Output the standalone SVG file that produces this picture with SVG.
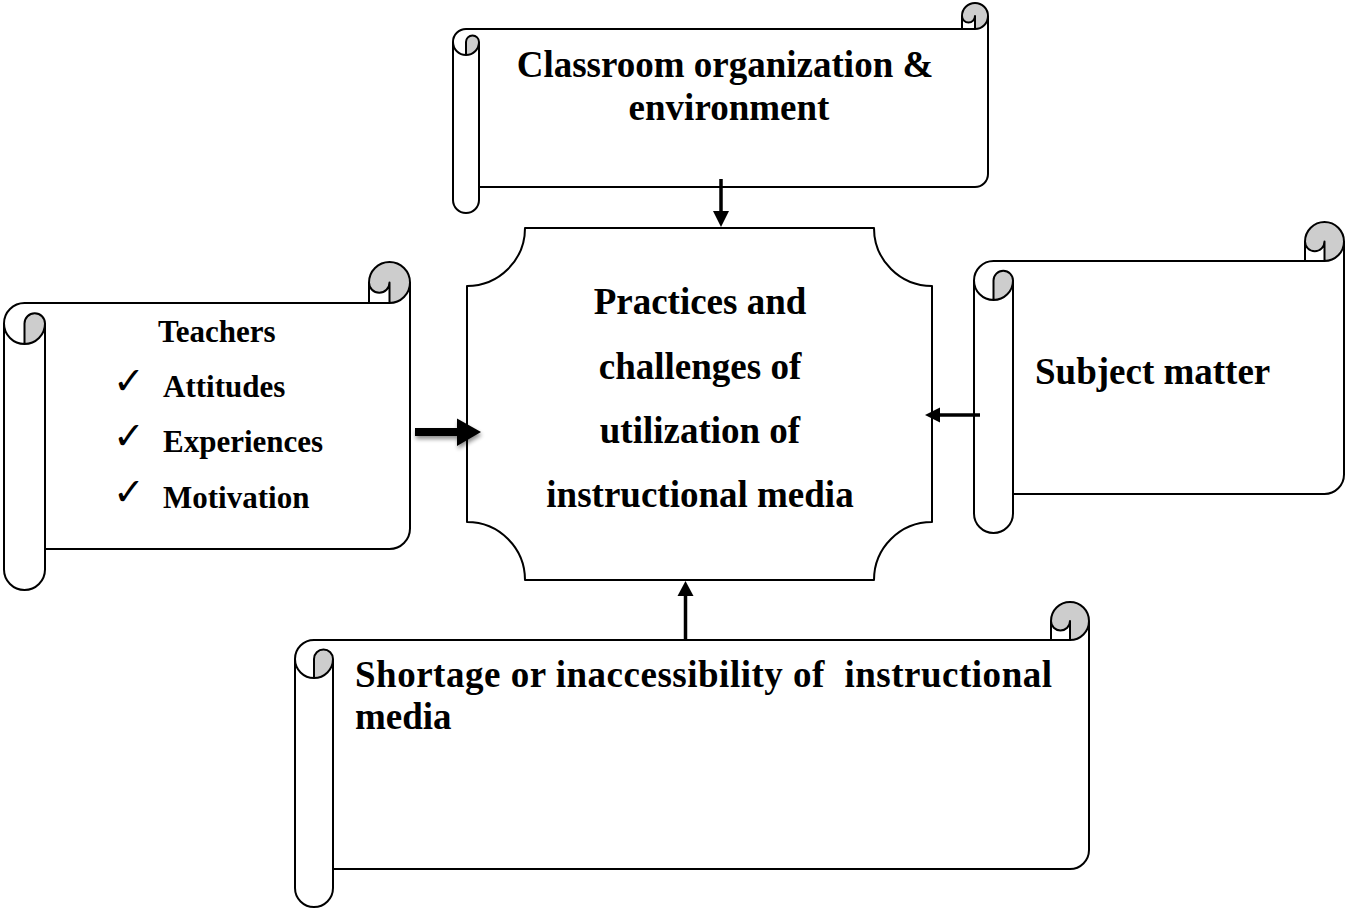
<svg xmlns="http://www.w3.org/2000/svg" width="1346" height="909" viewBox="0 0 1346 909">
<style>
.bg{fill:#ffffff}
.fillw{fill:#ffffff;stroke:none}
.gray{fill:#cdcdcd;stroke:none}
.ol{fill:none;stroke:#000;stroke-width:2;stroke-linejoin:round;stroke-linecap:round}
.t{font-family:"Liberation Serif","Times New Roman",serif;font-weight:bold;fill:#000}
.big{font-size:37px}
.mid{font-size:31px}
.chk{font-family:"DejaVu Sans",sans-serif;font-size:38px;fill:#000}
.ln{stroke:#000;fill:none}
.hd{fill:#000;stroke:none}
</style>
<defs>
<filter id="sh" x="-20%" y="-50%" width="140%" height="200%">
<feGaussianBlur in="SourceAlpha" stdDeviation="2"/>
<feOffset dx="1" dy="3" result="b"/>
<feComponentTransfer><feFuncA type="linear" slope="0.45"/></feComponentTransfer>
<feMerge><feMergeNode/><feMergeNode in="SourceGraphic"/></feMerge>
</filter>
</defs>
<rect class="bg" x="0" y="0" width="1346" height="909"/>

<g id="node-classroom">
<path class="fillw" d="M988,16 A13,13 0 0 1 975,29 L975,16 A6.5,6.5 0 0 1 962,16 L962,29 L466,29 A13,13 0 0 0 453,42 L453,200 A13,13 0 0 0 479,200 L479,187 L975,187 A13,13 0 0 0 988,174 Z"/>
<path class="gray" d="M466,55 A13,13 0 0 0 479,42 A6.5,6.5 0 0 0 466,42 Z M975,29 L975,16 A6.5,6.5 0 0 1 962,16 A13,13 0 0 1 988,16 A13,13 0 0 1 975,29 Z"/>
<path class="ol" d="M453,42 A13,13 0 0 1 466,29 L962,29 L962,16 A13,13 0 0 1 988,16 L988,174 A13,13 0 0 1 975,187 L479,187 L479,200 A13,13 0 0 1 453,200 Z M962,29 L975,29 A13,13 0 0 0 988,16 M975,29 L975,16 A6.5,6.5 0 0 1 962,16 M466,55 L466,42 A6.5,6.5 0 0 1 479,42 A13,13 0 0 1 453,42 M479,42 L479,187"/>
<text class="t big" x="725" y="77" text-anchor="middle">Classroom organization &amp;</text>
<text class="t big" x="729" y="120" text-anchor="middle">environment</text>
</g>

<g id="node-teachers">
<path class="fillw" d="M410,282.5 A20.5,20.5 0 0 1 389.5,303 L389.5,282.5 A10.25,10.25 0 0 1 369,282.5 L369,303 L24.5,303 A20.5,20.5 0 0 0 4,323.5 L4,569.5 A20.5,20.5 0 0 0 45,569.5 L45,549 L389.5,549 A20.5,20.5 0 0 0 410,528.5 Z"/>
<path class="gray" d="M24.5,344 A20.5,20.5 0 0 0 45,323.5 A10.25,10.25 0 0 0 24.5,323.5 Z M389.5,303 L389.5,282.5 A10.25,10.25 0 0 1 369,282.5 A20.5,20.5 0 0 1 410,282.5 A20.5,20.5 0 0 1 389.5,303 Z"/>
<path class="ol" d="M4,323.5 A20.5,20.5 0 0 1 24.5,303 L369,303 L369,282.5 A20.5,20.5 0 0 1 410,282.5 L410,528.5 A20.5,20.5 0 0 1 389.5,549 L45,549 L45,569.5 A20.5,20.5 0 0 1 4,569.5 Z M369,303 L389.5,303 A20.5,20.5 0 0 0 410,282.5 M389.5,303 L389.5,282.5 A10.25,10.25 0 0 1 369,282.5 M24.5,344 L24.5,323.5 A10.25,10.25 0 0 1 45,323.5 A20.5,20.5 0 0 1 4,323.5 M45,323.5 L45,549"/>
<text class="t mid" x="158" y="342">Teachers</text>
<text class="chk" x="113" y="394">✓</text>
<text class="t mid" x="163" y="397">Attitudes</text>
<text class="chk" x="113" y="449">✓</text>
<text class="t mid" x="163" y="452">Experiences</text>
<text class="chk" x="113" y="505">✓</text>
<text class="t mid" x="163" y="508">Motivation</text>
</g>

<g id="node-center">
<path class="ol" style="fill:#fff" d="M467,286 A58,58 0 0 0 525,228 L874,228 A58,58 0 0 0 932,286 L932,522 A58,58 0 0 0 874,580 L525,580 A58,58 0 0 0 467,522 Z"/>
<text class="t big" x="700" y="314" text-anchor="middle">Practices and</text>
<text class="t big" x="700" y="379" text-anchor="middle">challenges of</text>
<text class="t big" x="700" y="443" text-anchor="middle">utilization of</text>
<text class="t big" x="700" y="507" text-anchor="middle">instructional media</text>
</g>

<g id="node-subject">
<path class="fillw" d="M1344,241.5 A19.5,19.5 0 0 1 1324.5,261 L1324.5,241.5 A9.75,9.75 0 0 1 1305,241.5 L1305,261 L993.5,261 A19.5,19.5 0 0 0 974,280.5 L974,513.5 A19.5,19.5 0 0 0 1013,513.5 L1013,494 L1324.5,494 A19.5,19.5 0 0 0 1344,474.5 Z"/>
<path class="gray" d="M993.5,300 A19.5,19.5 0 0 0 1013,280.5 A9.75,9.75 0 0 0 993.5,280.5 Z M1324.5,261 L1324.5,241.5 A9.75,9.75 0 0 1 1305,241.5 A19.5,19.5 0 0 1 1344,241.5 A19.5,19.5 0 0 1 1324.5,261 Z"/>
<path class="ol" d="M974,280.5 A19.5,19.5 0 0 1 993.5,261 L1305,261 L1305,241.5 A19.5,19.5 0 0 1 1344,241.5 L1344,474.5 A19.5,19.5 0 0 1 1324.5,494 L1013,494 L1013,513.5 A19.5,19.5 0 0 1 974,513.5 Z M1305,261 L1324.5,261 A19.5,19.5 0 0 0 1344,241.5 M1324.5,261 L1324.5,241.5 A9.75,9.75 0 0 1 1305,241.5 M993.5,300 L993.5,280.5 A9.75,9.75 0 0 1 1013,280.5 A19.5,19.5 0 0 1 974,280.5 M1013,280.5 L1013,494"/>
<text class="t big" x="1035" y="384">Subject matter</text>
</g>

<g id="node-shortage">
<path class="fillw" d="M1089,621 A19,19 0 0 1 1070,640 L1070,621 A9.5,9.5 0 0 1 1051,621 L1051,640 L314,640 A19,19 0 0 0 295,659 L295,888 A19,19 0 0 0 333,888 L333,869 L1070,869 A19,19 0 0 0 1089,850 Z"/>
<path class="gray" d="M314,678 A19,19 0 0 0 333,659 A9.5,9.5 0 0 0 314,659 Z M1070,640 L1070,621 A9.5,9.5 0 0 1 1051,621 A19,19 0 0 1 1089,621 A19,19 0 0 1 1070,640 Z"/>
<path class="ol" d="M295,659 A19,19 0 0 1 314,640 L1051,640 L1051,621 A19,19 0 0 1 1089,621 L1089,850 A19,19 0 0 1 1070,869 L333,869 L333,888 A19,19 0 0 1 295,888 Z M1051,640 L1070,640 A19,19 0 0 0 1089,621 M1070,640 L1070,621 A9.5,9.5 0 0 1 1051,621 M314,678 L314,659 A9.5,9.5 0 0 1 333,659 A19,19 0 0 1 295,659 M333,659 L333,869"/>
<text class="t big" x="355" y="687" xml:space="preserve" textLength="697" lengthAdjust="spacing">Shortage or inaccessibility of  instructional</text>
<text class="t big" x="355" y="729">media</text>
</g>

<g id="connectors">
<g id="edge-top">
<line class="ln" x1="721" y1="179" x2="721" y2="213" stroke-width="3.5"/>
<polygon class="hd" points="713,211 729,211 721,227"/>
</g>
<g id="edge-left" filter="url(#sh)">
<line class="ln" x1="415" y1="432" x2="459" y2="432" stroke-width="8"/>
<polygon class="hd" points="457,418.5 457,446 481,432"/>
</g>
<g id="edge-right">
<line class="ln" x1="980" y1="415" x2="938" y2="415" stroke-width="3.5"/>
<polygon class="hd" points="940,407.5 940,422.5 925,415"/>
</g>
<g id="edge-bottom">
<line class="ln" x1="685.5" y1="640" x2="685.5" y2="594" stroke-width="3.5"/>
<polygon class="hd" points="677.5,596 693.5,596 685.5,581"/>
</g>
</g>
</svg>
